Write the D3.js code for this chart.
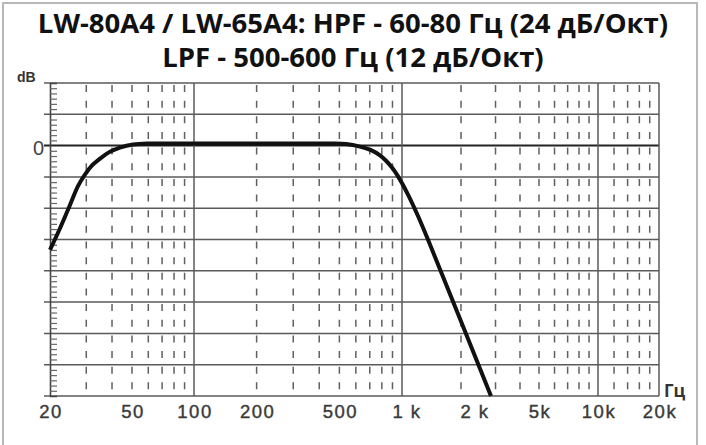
<!DOCTYPE html>
<html>
<head>
<meta charset="utf-8">
<script src="https://cdn.jsdelivr.net/npm/d3@7"></script>
<style>
  body { margin: 0; background: #fff; }
</style>
</head>
<body>
<script>
// chart values
var titleLines = ["LW-80A4 / LW-65A4: HPF - 60-80 Гц (24 дБ/Окт)", "LPF - 500-600 Гц (12 дБ/Окт)"];
var freqTicks = [20, 50, 100, 200, 500, 1000, 2000, 5000, 10000, 20000];
var freqLabels = ["20", "50", "100", "200", "500", "1 k", "2 k", "5k", "10k", "20k"];
var decadeLines = [100, 1000, 10000, 20000];
var dashedLines = [30, 40, 50, 60, 70, 80, 90, 200, 300, 400, 500, 600, 700, 800, 900,
                   2000, 3000, 4000, 5000, 6000, 7000, 8000, 9000, 12000, 14000, 16000, 18000];
var dbLines = [12, 6, 0, -6, -12, -18, -24, -30, -36, -42, -48];
// response curve (Hz, dB)
var curveFreq = [20, 22.4, 25.0, 27.3, 29.6, 32.0, 35.0, 39.1, 43.7, 50.6, 61.2, 100, 200,
                 451, 538, 628, 710, 784, 838, 895, 957, 1073, 1207, 1389, 2844];
var curveDb = [-20.0, -15.8, -11.4, -7.8, -5.5, -3.8, -2.5, -1.2, -0.4, 0.2, 0.4, 0.4, 0.4,
               0.4, 0.29, -0.19, -0.88, -1.88, -2.91, -4.21, -5.9, -9.38, -13.5, -18.96, -48.0];

window.onload = function(){
    var w = 706, h = 445;

    var svg = d3.select("body")
        .append("svg")
        .attr("width", w)
        .attr("height", h);

    //outer frame
    svg.append("rect")
        .attr("x", 3).attr("y", 3)
        .attr("width", 694).attr("height", 446)
        .style("fill", "none")
        .style("stroke", "#b8b8b8")
        .style("stroke-width", 2);

    //log frequency scale, piecewise so the decades sit where the picture has them
    var x = d3.scaleLog()
        .domain([20, 100, 1000, 10000, 20000])
        .range([50, 194, 402, 598, 659]);

    var y = d3.scaleLinear()
        .domain([12, -48])
        .range([83, 396]);

    //title
    svg.selectAll(".title")
        .data(titleLines)
        .enter()
        .append("text")
        .attr("class", "title")
        .attr("x", 353)
        .attr("y", function(d, i){ return 33 + i * 34; })
        .attr("text-anchor", "middle")
        .style("font-family", "'Open Sans', sans-serif")
        .style("font-weight", "bold")
        .style("font-size", "27.5px")
        .style("fill", "#111")
        .text(function(d){ return d; });

    var grid = svg.append("g");

    //dashed minor frequency lines
    grid.selectAll(".dash")
        .data(dashedLines)
        .enter()
        .append("line")
        .attr("x1", function(d){ return x(d); })
        .attr("x2", function(d){ return x(d); })
        .attr("y1", y(12))
        .attr("y2", y(-48))
        .style("stroke", "#606060")
        .style("stroke-width", 1.5)
        .style("stroke-dasharray", "7,8.65")
        .style("stroke-dashoffset", -2);

    //horizontal dB lines
    grid.selectAll(".hline")
        .data(dbLines)
        .enter()
        .append("line")
        .attr("x1", 44)
        .attr("x2", x(20000))
        .attr("y1", function(d){ return y(d); })
        .attr("y2", function(d){ return y(d); })
        .style("stroke", function(d){ return d === 0 ? "#222" : "#5a5a5a"; })
        .style("stroke-width", function(d){ return d === 0 ? 2 : 1.5; });

    //solid decade lines
    grid.selectAll(".vline")
        .data(decadeLines)
        .enter()
        .append("line")
        .attr("x1", function(d){ return x(d); })
        .attr("x2", function(d){ return x(d); })
        .attr("y1", y(12))
        .attr("y2", y(-48))
        .style("stroke", "#5a5a5a")
        .style("stroke-width", 1.5);

    //left axis with 1 dB minor ticks
    var yAxis = d3.axisRight(y)
        .tickValues(d3.range(-47, 12, 1).filter(function(d){ return d % 6 !== 0; }))
        .tickSize(7)
        .tickFormat("");
    var axisG = svg.append("g")
        .attr("transform", "translate(" + x(20) + ",0)")
        .call(yAxis);
    axisG.select(".domain").style("stroke", "#444").style("stroke-width", 1.6);
    axisG.selectAll(".tick line").style("stroke", "#666").style("stroke-width", 1.2);

    //frequency labels
    svg.selectAll(".flabel")
        .data(freqTicks)
        .enter()
        .append("text")
        .attr("class", "flabel")
        .attr("x", function(d){ return x(d); })
        .attr("dx", function(d){ return d === 2000 ? 14 : (d === 1000 ? 5 : 1); })
        .attr("y", 418)
        .attr("text-anchor", "middle")
        .style("font-family", "'Liberation Sans', Arial, sans-serif")
        .style("font-size", "18.5px")
        .style("letter-spacing", "1.5px")
        .style("fill", "#3a3a3a")
        .style("stroke", "#3a3a3a")
        .style("stroke-width", 0.4)
        .text(function(d, i){ return freqLabels[i]; });

    //axis captions
    svg.append("text")
        .attr("x", 44).attr("y", 155)
        .attr("text-anchor", "end")
        .style("font-family", "'Liberation Sans', Arial, sans-serif")
        .style("font-size", "20px")
        .style("fill", "#444")
        .text("0");

    svg.append("text")
        .attr("x", 17).attr("y", 82)
        .style("font-family", "'Liberation Sans', Arial, sans-serif")
        .style("font-weight", "bold")
        .style("font-size", "14px")
        .style("fill", "#333")
        .text("dB");

    svg.append("text")
        .attr("x", 664).attr("y", 397)
        .style("font-family", "'Open Sans', sans-serif")
        .style("font-weight", "bold")
        .style("font-size", "17px")
        .style("fill", "#333")
        .text("Гц");

    //response curve
    var line = d3.line()
        .x(function(d){ return x(d[0]); })
        .y(function(d){ return y(d[1]); })
        .curve(d3.curveCatmullRom.alpha(0.5));

    svg.append("path")
        .datum(d3.zip(curveFreq, curveDb))
        .attr("d", line)
        .style("fill", "none")
        .style("stroke", "#111")
        .style("stroke-width", 4)
        .style("stroke-linejoin", "round");
};
</script>
</body>
</html>
